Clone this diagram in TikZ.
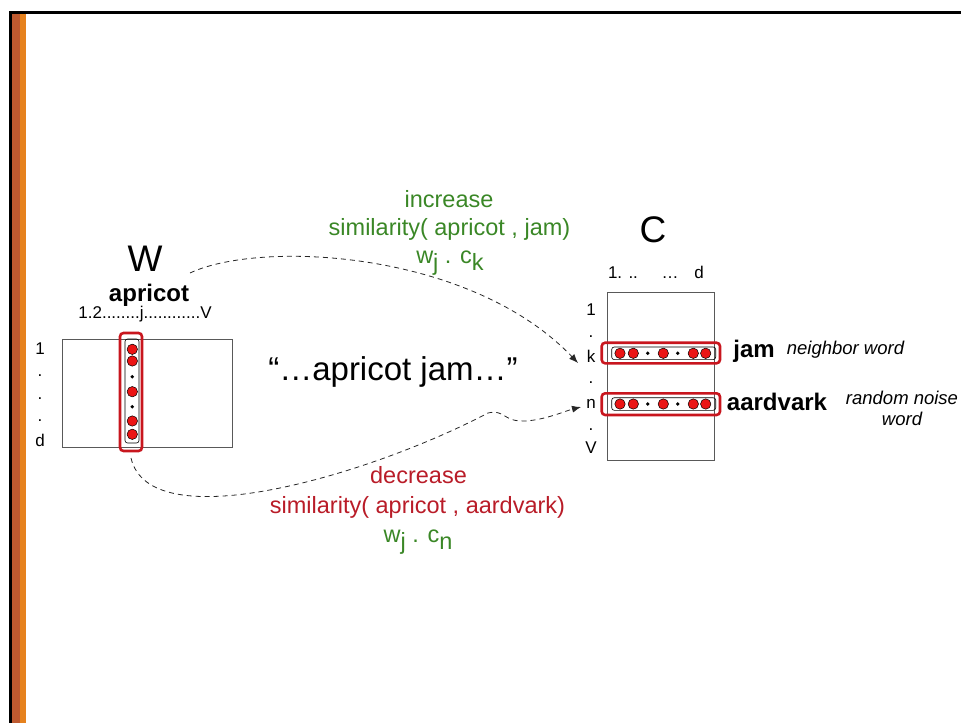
\documentclass[tikz,border=0pt]{standalone}
\usepackage{fontspec}
\setmainfont{Liberation Sans}
\usetikzlibrary{arrows.meta}
\definecolor{framebrown}{RGB}{190,90,48}
\definecolor{frameorange}{RGB}{230,130,30}
\definecolor{boxred}{RGB}{200,22,30}
\definecolor{dotred}{RGB}{235,20,20}
\definecolor{simgreen}{RGB}{58,135,38}
\definecolor{simred}{RGB}{185,28,40}
\def\fsz#1{\fontsize{#1}{#1}\selectfont}
\def\sub#1{\raisebox{-0.32em}{#1}}
\tikzset{
  mat/.style={draw=black!65,line width=0.9pt},
  hilite/.style={draw=boxred,line width=2.6pt,rounded corners=3.5pt},
  innerbox/.style={draw=black,line width=0.6pt,rounded corners=2.5pt},
  reddot/.style={fill=dotred,draw=black,line width=0.5pt},
  idx/.style={inner sep=0pt,font=\fsz{17}},
  greentxt/.style={inner sep=0pt,anchor=base,text=simgreen,font=\fsz{23.5}},
  redtxt/.style={inner sep=0pt,anchor=base,text=simred,font=\fsz{23.5}},
  wordlbl/.style={inner sep=0pt,anchor=base,font=\bfseries\fsz{24}},
  notelbl/.style={inner sep=0pt,anchor=base,font=\itshape\fsz{18.5}},
  simarrow/.style={draw=black!85,line width=0.8pt,dash pattern=on 5pt off 4pt,-{Latex[length=9pt,width=7pt]}}
}
\begin{document}
\begin{tikzpicture}[x=1pt,y=-1pt]
		%%%%% FRAME %%%%%
		\useasboundingbox (0,0) rectangle (961,723);
		\fill[black] (9,11) rectangle (961,14);
		\fill[black] (9,11) rectangle (11.5,723);
		\fill[framebrown] (11.5,14) rectangle (20,723);
		\fill[frameorange] (20,14) rectangle (25.5,723);
		
		%%%%% MATRIX W %%%%%
		\node[font=\fsz{37},inner sep=0pt] (Wlbl) at (145,259) {W};
		\node[font=\bfseries\fsz{24},inner sep=0pt] (apricot) at (149,295) {apricot};
		\node[idx,anchor=base] (Wcols) at (145,318) {1.2........j............V};
		\draw[mat] (62,339) rectangle (232,447);
		\node[idx] (Wr1) at (40,349) {1};
		\node[idx] (Wr2) at (40,376) {.};
		\node[idx] (Wr3) at (40,399) {.};
		\node[idx] (Wr4) at (40,421) {.};
		\node[idx] (Wrd) at (40,440) {d};
		
		\draw[innerbox] (125,339) rectangle (139,443);
		\foreach \y in {349.3,361,391.7,421,434.3}
			\draw[reddot] (132.3,\y) circle (5.2);
		\fill (132.3,376.7) circle (1.9);
		\fill (132.3,406.7) circle (1.9);
		\draw[hilite] (120,333) rectangle (142,451);
		
		%%%%% CONTEXT %%%%%
		\node[font=\fsz{33},inner sep=0pt] (context) at (393,372) {“…apricot jam…”};
		
		%%%%% MATRIX C %%%%%
		\node[font=\fsz{37},inner sep=0pt] (Clbl) at (653,230) {C};
		\node[idx,anchor=base] (Cc1) at (623,278) {1. ..};
		\node[idx,anchor=base] (Cc2) at (670,278) {…};
		\node[idx,anchor=base] (Ccd) at (699,278) {d};
		\draw[mat] (607,292) rectangle (714,460);
		\node[idx] (Cr1) at (591,310) {1};
		\node[idx] (Cr2) at (591,337) {.};
		\node[idx] (Crk) at (591,356) {k};
		\node[idx] (Cr3) at (591,383) {.};
		\node[idx] (Crn) at (591,404) {n};
		\node[idx] (Cr4) at (591,430) {.};
		\node[idx] (CrV) at (591,448) {V};
		
		\foreach \y in {353.3,404}{
			\draw[innerbox] (611.7,\y-6.3) rectangle (715.7,\y+6.3);
			\foreach \x in {620,633.3,663.3,693.3,705.7}
				\draw[reddot] (\x,\y) circle (5.2);
			\fill (647.7,\y) circle (1.9);
			\fill (677.7,\y) circle (1.9);
		}
		\draw[hilite] (601.7,342.7) rectangle (720,363.3);
		\draw[hilite] (601.7,393.3) rectangle (720,415);
		
		\node[wordlbl] (jam) at (754,357) {jam};
		\node[notelbl] (jamnote) at (845.5,354) {neighbor word};
		\node[wordlbl] (aardvark) at (777,410) {aardvark};
		\node[notelbl] (noise1) at (902,404) {random noise};
		\node[notelbl] (noise2) at (902,425) {word};
		
		%%%%% SIMILARITY LABELS %%%%%
		\node[greentxt] (inc1) at (449,207) {increase};
		\node[greentxt] (inc2) at (449.5,235) {similarity( apricot , jam)};
		\node[greentxt] (inc3) at (450,263) {w\sub{j} . c\sub{k}};
		\node[redtxt] (dec1) at (418.5,483) {decrease};
		\node[redtxt] (dec2) at (417.5,513) {similarity( apricot , aardvark)};
		\node[greentxt] (dec3) at (418,542) {w\sub{j} . c\sub{n}};
		
		%%%%% ARROWS %%%%%
		\coordinate (incstart) at (190,273);
		\coordinate (inctip) at (578,363);
		\coordinate (decstart) at (131,458);
		\coordinate (dectip) at (581,407);
		\draw[simarrow] (incstart) .. controls (260,240) and (470,250) .. (inctip);
		\draw[simarrow] (decstart) .. controls (150,540) and (370,475) .. (488,413)
			.. controls (505,409) and (503,422) .. (525,421)
			.. controls (545,420) and (565,411) .. (dectip);
	\end{tikzpicture}
\end{document}
